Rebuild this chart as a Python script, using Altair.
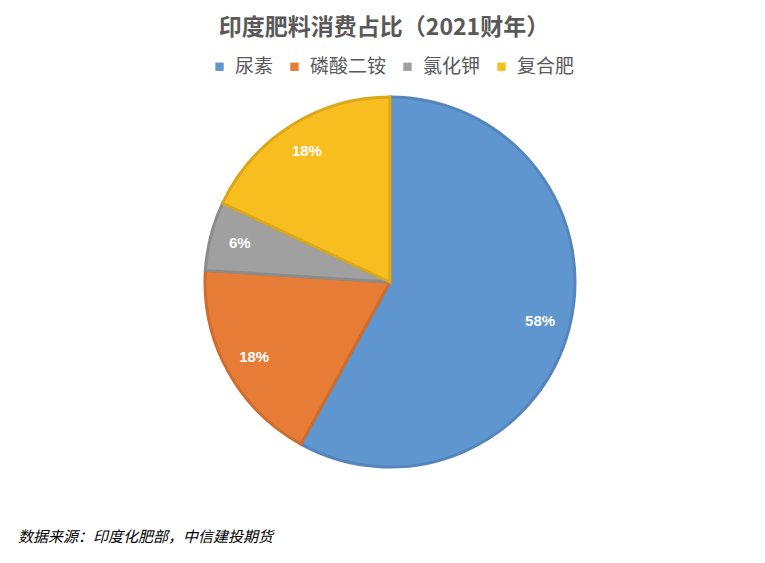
import altair as alt
import pandas as pd

categories = ["尿素", "磷酸二铵", "氯化钾", "复合肥"]
values = [58, 18, 6, 18]
labels = ["58%", "18%", "6%", "18%"]
fills = ["#6096cf", "#e67c35", "#a0a0a0", "#f8bd1f"]
strokes = ["#5585ba", "#cf6d2c", "#8c8c8c", "#dca81a"]
title_text = "印度肥料消费占比（2021财年）"
source_text = "数据来源：印度化肥部，中信建投期货"

df = pd.DataFrame({"category": categories, "value": values, "label": labels,
                   "idx": list(range(len(categories)))})

CX, CY, R = 382, 274, 185
FONT = "Noto Sans CJK SC"

base = alt.Chart(df).encode(
    theta=alt.Theta("value:Q", stack=True),
    order=alt.Order("idx:Q"),
)

arcs = base.mark_arc(outerRadius=R, strokeWidth=3, strokeJoin="miter").encode(
    color=alt.Color("category:N", sort=categories,
                    scale=alt.Scale(domain=categories, range=fills),
                    legend=alt.Legend(title=None, orient="none", direction="horizontal",
                                      legendX=202, legendY=49, symbolType="square",
                                      symbolSize=70, symbolStrokeWidth=0,
                                      labelFont=FONT, labelFontSize=19,
                                      labelColor="#595959", columnPadding=11,
                                      labelOffset=6)),
    stroke=alt.Stroke("category:N", scale=alt.Scale(domain=categories, range=strokes),
                      legend=None),
    x=alt.value(CX), y=alt.value(CY),
)

texts = base.mark_text(radius=155, fontSize=15, fontWeight="bold", color="white",
                       font="Liberation Sans").encode(
    text="label:N", x=alt.value(CX), y=alt.value(CY),
)

title = alt.Chart(pd.DataFrame({"t": [title_text]})).mark_text(
    fontSize=23, fontWeight="bold", color="#595959", font=FONT, align="center",
    baseline="middle").encode(text="t:N", x=alt.value(376), y=alt.value(20))

footer = alt.Chart(pd.DataFrame({"t": [source_text]})).mark_text(
    fontSize=15, fontStyle="italic", color="#000000", font=FONT, align="left",
    baseline="middle").encode(text="t:N", x=alt.value(10), y=alt.value(529))

chart = alt.layer(arcs, texts, title, footer).properties(
    width=749, height=547, autosize="none", padding=0
).configure_view(stroke=None).resolve_scale(color="independent")

chart.save("out.html", embed_options={"renderer": "svg", "actions": False})
